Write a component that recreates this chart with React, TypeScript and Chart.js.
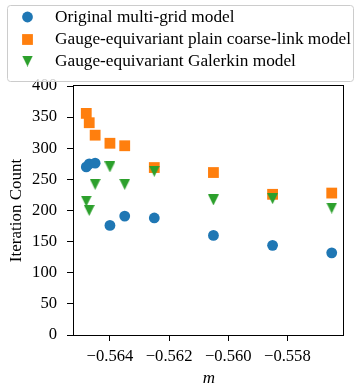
import React, { useEffect, useRef } from 'react';
import { Chart, registerables } from 'chart.js';

Chart.register(...registerables);

// ---- data ----
const mValues = [-0.5648, -0.5647, -0.5645, -0.564, -0.5635, -0.5625, -0.5605, -0.5585, -0.5565];
const originalCounts = [270, 275, 276, 176, 191, 188, 160, 144, 132];
const plainCounts = [356, 341, 321, 308, 304, 269, 261, 226, 228];
const galerkinCounts = [215, 200, 242, 270, 242, 263, 217, 219, 204];
const seriesLabels = [
  'Original multi-grid model',
  'Gauge-equivariant plain coarse-link model',
  'Gauge-equivariant Galerkin model',
];
const seriesColors = ['#1f77b4', '#ff7f0e', '#2ca02c'];
const xTickValues = [-0.564, -0.562, -0.56, -0.558];
const yTickValues = [0, 50, 100, 150, 200, 250, 300, 350, 400];
const xLimits = [-0.565215, -0.556085];
const yLimits = [0, 400];

const FONT = "'Liberation Serif', 'Times New Roman', serif";
const MARK = 10.8;

function makeTriangle(color: string, size: number): HTMLCanvasElement {
  const c = document.createElement('canvas');
  const s = Math.ceil(size);
  c.width = s;
  c.height = s;
  const ctx = c.getContext('2d')!;
  const o = (s - size) / 2;
  ctx.fillStyle = color;
  ctx.beginPath();
  ctx.moveTo(o, o);
  ctx.lineTo(o + size, o);
  ctx.lineTo(s / 2, o + size);
  ctx.closePath();
  ctx.fill();
  return c;
}

export default function App() {
  const ref = useRef<HTMLCanvasElement>(null);

  useEffect(() => {
    const canvas = ref.current!;
    const tri = makeTriangle(seriesColors[2], MARK);
    const toPts = (ys: number[]) => mValues.map((x, i) => ({ x, y: ys[i] }));

    const framePlugin = {
      id: 'frame',
      afterDraw(chart: any) {
        const { ctx, chartArea: a } = chart;
        ctx.save();
        ctx.strokeStyle = '#000';
        ctx.lineWidth = 1;
        ctx.strokeRect(Math.round(a.left) - 0.5, Math.round(a.top) - 0.5, Math.round(a.right) - Math.round(a.left), Math.round(a.bottom) - Math.round(a.top) + 1);
        ctx.restore();
      },
    };

    const legendPlugin = {
      id: 'mplLegend',
      afterDraw(chart: any) {
        const { ctx } = chart;
        ctx.save();
        ctx.beginPath();
        (ctx as any).roundRect(7.5, 5.5, 346, 76, 3);
        ctx.fillStyle = 'rgba(255,255,255,0.8)';
        ctx.fill();
        ctx.strokeStyle = '#cccccc';
        ctx.lineWidth = 1;
        ctx.stroke();
        const rows = [17, 39.5, 61];
        const mx = 27.5;
        rows.forEach((ry, i) => {
          ctx.fillStyle = seriesColors[i];
          if (i === 0) {
            ctx.beginPath();
            ctx.arc(mx, ry, MARK / 2, 0, Math.PI * 2);
            ctx.fill();
          } else if (i === 1) {
            ctx.fillRect(mx - MARK / 2, ry - MARK / 2, MARK, MARK);
          } else {
            ctx.drawImage(tri, mx - tri.width / 2, ry - tri.height / 2);
          }
          ctx.fillStyle = '#000';
          ctx.font = `17.3px ${FONT}`;
          ctx.textBaseline = 'middle';
          ctx.textAlign = 'left';
          ctx.fillText(seriesLabels[i], 55, ry);
        });
        ctx.restore();
      },
    };

    const tickFont = { family: FONT, size: 16.6 };

    const chart = new Chart(canvas, {
      type: 'scatter',
      data: {
        datasets: [
          {
            label: seriesLabels[0],
            data: toPts(originalCounts),
            backgroundColor: seriesColors[0],
            borderColor: seriesColors[0],
            borderWidth: 0,
            pointStyle: 'circle',
            pointRadius: MARK / 2,
            order: 2,
          },
          {
            label: seriesLabels[1],
            data: toPts(plainCounts),
            backgroundColor: seriesColors[1],
            borderColor: seriesColors[1],
            borderWidth: 0,
            pointStyle: 'rect',
            pointRadius: (MARK / 2) * Math.SQRT2,
            order: 1,
          },
          {
            label: seriesLabels[2],
            data: toPts(galerkinCounts),
            backgroundColor: seriesColors[2],
            borderColor: seriesColors[2],
            borderWidth: 0,
            pointStyle: tri as any,
            pointRadius: MARK / 2,
            order: 0,
          },
        ],
      },
      options: {
        responsive: false,
        animation: false,
        devicePixelRatio: 1,
        events: [],
        layout: { padding: { top: 86, right: 11, bottom: 0, left: 0 } },
        plugins: {
          legend: { display: false },
          tooltip: { enabled: false },
        },
        scales: {
          x: {
            type: 'linear',
            min: xLimits[0],
            max: xLimits[1],
            afterBuildTicks: (scale: any) => {
              scale.ticks = xTickValues.map((v) => ({ value: v }));
            },
            afterFit: (scale: any) => {
              scale.height = 50;
            },
            border: { display: false },
            grid: { display: true, drawOnChartArea: false, drawTicks: true, tickLength: 6, tickColor: '#000', tickWidth: 1 },
            ticks: {
              color: '#000',
              font: tickFont,
              padding: 6,
              maxRotation: 0,
              autoSkip: false,
              callback: (v: any) => {
                const n = Number(v);
                return (n < 0 ? '\u2212' : '') + Math.abs(n).toFixed(3);
              },
            },
            title: {
              display: true,
              text: 'm',
              color: '#000',
              font: { family: FONT, size: 17, style: 'italic', lineHeight: 1 },
              padding: { top: 0, bottom: -2 },
            },
          },
          y: {
            type: 'linear',
            min: yLimits[0],
            max: yLimits[1],
            afterBuildTicks: (scale: any) => {
              scale.ticks = yTickValues.map((v) => ({ value: v }));
            },
            afterFit: (scale: any) => {
              scale.width = 74;
            },
            border: { display: false },
            grid: { display: true, drawOnChartArea: false, drawTicks: true, tickLength: 7, tickColor: '#000', tickWidth: 1 },
            ticks: {
              color: '#000',
              font: tickFont,
              padding: 10,
              autoSkip: false,
              callback: (v: any) => String(v),
            },
            title: {
              display: true,
              text: 'Iteration Count',
              color: '#000',
              font: { family: FONT, size: 17, lineHeight: 1 },
              padding: { top: 8.5, bottom: 0 },
            },
          },
        },
      },
      plugins: [framePlugin, legendPlugin],
    });

    return () => chart.destroy();
  }, []);

  return (
    <div style={{ position: 'absolute', left: 0, top: 0, width: 355, height: 385 }}>
      <canvas ref={ref} width={355} height={385} style={{ display: 'block', width: 355, height: 385 }} />
    </div>
  );
}
